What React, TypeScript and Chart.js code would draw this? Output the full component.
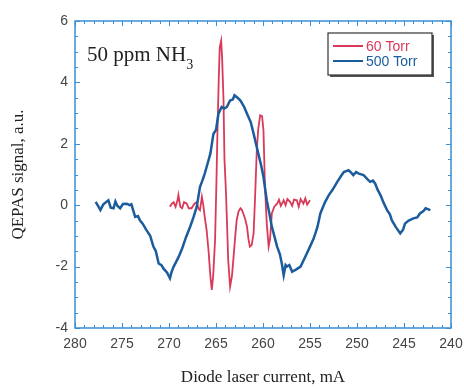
import React, { useEffect, useRef } from "react";
import { Chart, registerables } from "chart.js";

Chart.register(...registerables);

const torr500X = [277.8, 277.5, 277.3, 277.0, 276.7, 276.45, 276.2, 275.9, 275.7, 275.5, 275.2, 274.9, 274.5, 274.2, 274.0, 273.6, 273.3, 273.1, 272.8, 272.4, 272.0, 271.66, 271.4, 271.1, 270.8, 270.6, 270.2, 269.9, 269.7, 269.5, 269.0, 268.6, 268.2, 267.75, 267.4, 267.05, 266.7, 266.45, 266.2, 265.9, 265.6, 265.27, 265.0, 264.74, 264.4, 264.1, 263.85, 263.5, 263.2, 263.03, 262.7, 262.4, 262.0, 261.7, 261.3, 261.0, 260.5, 260.2, 259.95, 259.6, 259.3, 259.06, 258.8, 258.5, 258.2, 258.0, 257.8, 257.6, 257.46, 257.2, 256.9, 256.5, 256.0, 255.5, 255.0, 254.6, 254.2, 253.9, 253.4, 253.0, 252.6, 252.1, 251.7, 251.4, 250.9, 250.6, 250.4, 250.1, 249.8, 249.3, 248.9, 248.6, 248.3, 248.06, 247.8, 247.5, 247.2, 246.8, 246.5, 246.3, 245.9, 245.4, 245.1, 244.9, 244.5, 244.0, 243.6, 243.3, 242.9, 242.7, 242.2];
const torr500Y = [0.11, -0.05, -0.16, 0.02, 0.1, 0.16, -0.08, -0.1, 0.12, -0.02, -0.1, 0.04, 0.05, 0.0, 0.03, -0.38, -0.35, -0.49, -0.6, -0.81, -1.0, -1.35, -1.5, -1.9, -1.95, -2.06, -2.2, -2.38, -2.15, -2.0, -1.7, -1.41, -1.05, -0.7, -0.4, -0.05, 0.6, 0.8, 1.03, 1.35, 1.68, 2.33, 2.45, 2.98, 3.2, 3.15, 3.2, 3.41, 3.45, 3.58, 3.5, 3.41, 3.2, 2.98, 2.7, 2.33, 1.68, 1.3, 0.92, 0.16, -0.3, -0.7, -1.0, -1.35, -1.6, -1.9, -2.28, -1.95, -2.0, -1.95, -2.17, -2.1, -2.0, -1.68, -1.35, -1.08, -0.7, -0.27, 0.1, 0.33, 0.5, 0.76, 0.95, 1.08, 1.14, 1.05, 0.98, 1.08, 1.03, 0.98, 0.85, 0.76, 0.8, 0.7, 0.5, 0.33, 0.1, -0.16, -0.3, -0.49, -0.7, -0.92, -0.8, -0.6, -0.5, -0.43, -0.4, -0.27, -0.18, -0.1, -0.16];

const torr60X = [269.9, 269.7, 269.5, 269.3, 269.1, 269.0, 268.8, 268.6, 268.4, 268.1, 267.9, 267.6, 267.3, 267.05, 266.85, 266.7, 266.5, 266.35, 266.2, 266.0, 265.8, 265.6, 265.45, 265.3, 265.1, 264.95, 264.85, 264.7, 264.6, 264.45, 264.35, 264.2, 264.1, 263.95, 263.85, 263.7, 263.5, 263.3, 263.1, 262.95, 262.8, 262.6, 262.4, 262.25, 262.1, 261.9, 261.7, 261.55, 261.4, 261.2, 261.0, 260.85, 260.66, 260.5, 260.3, 260.1, 259.95, 259.8, 259.6, 259.4, 259.25, 259.06, 258.8, 258.5, 258.3, 258.1, 257.8, 257.6, 257.4, 257.1, 256.9, 256.7, 256.4, 256.2, 256.0, 255.7, 255.5, 255.3, 255.0];
const torr60Y = [-0.05, 0.05, 0.1, -0.05, 0.15, 0.33, -0.05, -0.1, 0.1, 0.05, -0.1, -0.1, 0.05, 0.1, -0.12, -0.16, 0.27, 0.0, -0.38, -0.8, -1.46, -2.3, -2.76, -2.3, -1.14, 0.8, 2.33, 4.2, 5.15, 5.36, 4.8, 3.41, 1.5, 0.5, -0.38, -1.8, -2.65, -2.3, -1.57, -1.0, -0.49, -0.2, -0.1, -0.15, -0.27, -0.45, -0.7, -1.1, -1.35, -1.3, -0.92, 0.2, 1.79, 2.5, 2.93, 2.9, 2.44, 0.7, -0.6, -1.35, -1.1, -0.27, -0.05, 0.05, 0.18, -0.02, 0.16, 0.0, 0.2, 0.1, -0.02, 0.18, 0.16, -0.05, 0.2, 0.05, 0.22, 0.02, 0.16];

const xTicks = [280, 275, 270, 265, 260, 255, 250, 245, 240];
const yTicks = [-4, -2, 0, 2, 4, 6];
const seriesNames = ["60 Torr", "500 Torr"];
const seriesColors = ["#d93a58", "#1b5c9c"];

const toPts = (xs: number[], ys: number[]) => xs.map((x, i) => ({ x, y: ys[i] }));

const framePlugin = {
  id: "frame",
  afterDraw(chart: any) {
    const { ctx, chartArea: a, scales } = chart;
    const xs = scales.x;
    const ys = scales.y;
    ctx.save();
    ctx.strokeStyle = "#3a8ed3";
    ctx.lineWidth = 1.5;
    ctx.strokeRect(a.left, a.top, a.right - a.left, a.bottom - a.top);
    ctx.lineWidth = 1;
    ctx.beginPath();
    for (let v = 240; v <= 280; v += 1) {
      const px = Math.round(xs.getPixelForValue(v)) + 0.5;
      const len = v % 5 === 0 ? 5 : 3;
      ctx.moveTo(px, a.bottom);
      ctx.lineTo(px, a.bottom - len);
      ctx.moveTo(px, a.top);
      ctx.lineTo(px, a.top + len);
    }
    for (let v = -4; v <= 6; v += 0.5) {
      const py = Math.round(ys.getPixelForValue(v)) + 0.5;
      const len = Math.abs(v % 2) < 1e-6 ? 5 : 3;
      ctx.moveTo(a.left, py);
      ctx.lineTo(a.left + len, py);
      ctx.moveTo(a.right, py);
      ctx.lineTo(a.right - len, py);
    }
    ctx.stroke();

    // annotation
    ctx.fillStyle = "#222";
    ctx.font = "21px 'Liberation Serif', 'Times New Roman', serif";
    ctx.textBaseline = "alphabetic";
    ctx.textAlign = "left";
    const txt = "50 ppm NH";
    ctx.fillText(txt, 87, 61);
    const w = ctx.measureText(txt).width;
    ctx.font = "14px 'Liberation Serif', 'Times New Roman', serif";
    ctx.fillText("3", 87 + w, 69);

    // legend
    const lx = 328, ly = 33, lw = 104, lh = 42;
    ctx.fillStyle = "#555";
    ctx.fillRect(lx + 2, ly + 2, lw, lh);
    ctx.fillStyle = "#fff";
    ctx.fillRect(lx, ly, lw, lh);
    ctx.strokeStyle = "#333";
    ctx.lineWidth = 1.2;
    ctx.strokeRect(lx, ly, lw, lh);
    ctx.font = "14px 'Liberation Sans', Arial, sans-serif";
    ctx.textBaseline = "middle";
    seriesNames.forEach((name, i) => {
      const y = ly + 13 + i * 15;
      ctx.strokeStyle = seriesColors[i];
      ctx.lineWidth = 2;
      ctx.beginPath();
      ctx.moveTo(lx + 5, y);
      ctx.lineTo(lx + 35, y);
      ctx.stroke();
      ctx.fillStyle = seriesColors[i];
      ctx.fillText(name, lx + 38, y + 1);
    });
    ctx.restore();
  },
};

export default function App() {
  const ref = useRef<HTMLCanvasElement>(null);
  useEffect(() => {
    document.body.style.margin = "0";
    const chart = new Chart(ref.current!, {
      type: "line",
      data: {
        datasets: [
          {
            label: seriesNames[1],
            data: toPts(torr500X, torr500Y),
            borderColor: seriesColors[1],
            borderWidth: 2.5,
            pointRadius: 0,
            tension: 0,
          },
          {
            label: seriesNames[0],
            data: toPts(torr60X, torr60Y),
            borderColor: seriesColors[0],
            borderWidth: 1.8,
            pointRadius: 0,
            tension: 0,
          },
        ],
      },
      options: {
        animation: false,
        responsive: false,
        layout: { padding: { top: 21, right: 13, left: 0, bottom: 0 } },
        plugins: { legend: { display: false }, tooltip: { enabled: false } },
        scales: {
          x: {
            type: "linear",
            reverse: true,
            min: 240,
            max: 280,
            afterBuildTicks: (s: any) => {
              s.ticks = xTicks.map((v) => ({ value: v }));
            },
            afterFit: (s: any) => {
              s.height = 61;
              s.paddingLeft = 0;
              s.paddingRight = 0;
            },
            grid: { display: false, drawTicks: false },
            border: { display: false },
            ticks: {
              padding: 8,
              color: "#444",
              font: { family: "'Liberation Sans', Arial, sans-serif", size: 14 },
              maxRotation: 0,
            },
            title: {
              display: true,
              text: "Diode laser current, mA",
              color: "#222",
              font: { family: "'Liberation Serif', 'Times New Roman', serif", size: 17 },
              padding: { top: 0, bottom: 1 },
            },
          },
          y: {
            min: -4,
            max: 6,
            afterBuildTicks: (s: any) => {
              s.ticks = yTicks.map((v) => ({ value: v }));
            },
            afterFit: (s: any) => {
              s.width = 75;
              s.paddingTop = 0;
              s.paddingBottom = 0;
            },
            grid: { display: false, drawTicks: false },
            border: { display: false },
            ticks: {
              padding: 7,
              color: "#444",
              font: { family: "'Liberation Sans', Arial, sans-serif", size: 14 },
            },
            title: {
              display: true,
              text: "QEPAS signal, a.u.",
              color: "#222",
              font: { family: "'Liberation Serif', 'Times New Roman', serif", size: 17 },
              padding: { top: 8, bottom: 0 },
            },
          },
        },
      },
      plugins: [framePlugin],
    } as any);
    return () => chart.destroy();
  }, []);
  return (
    <div style={{ position: "absolute", left: 0, top: 0, width: 464, height: 389, background: "#fff" }}>
      <canvas ref={ref} width={464} height={389} />
    </div>
  );
}
